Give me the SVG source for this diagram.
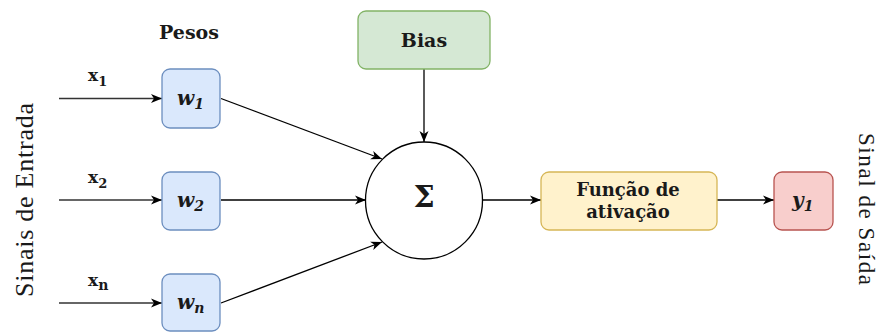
<svg xmlns="http://www.w3.org/2000/svg" width="880" height="332" viewBox="0 0 880 332">
<defs>
<marker id="arr" markerUnits="userSpaceOnUse" markerWidth="12" markerHeight="10" viewBox="0 0 12 10" refX="11" refY="5" orient="auto">
<path d="M0,0.5 L11,5 L0,9.5 L3,5 Z" fill="#000"/>
</marker>
</defs>
<style>
.lbl{font-family:"DejaVu Serif",serif;font-weight:bold;font-size:19px;text-anchor:middle;fill:#1a1a1a;}
.fn{font-size:18px;}
.sig{font-size:30px;}
.side{font-family:"Liberation Serif",serif;font-size:26px;text-anchor:middle;fill:#1a1a1a;}
.saida{font-size:23px;}
.w{fill:#dae8fc;stroke:#6c8ebf;stroke-width:1.3;}
.edge{stroke:#000;stroke-width:1.3;fill:none;marker-end:url(#arr);}
.in{stroke:#333;stroke-width:1.6;fill:none;marker-end:url(#arr);}
.var{font-family:"DejaVu Serif",serif;font-weight:bold;font-style:italic;font-size:20px;fill:#1a1a1a;}
.xl{font-family:"DejaVu Serif",serif;font-weight:bold;font-size:17px;fill:#1a1a1a;}
</style>
<g id="connectors">
<line class="in" x1="59" y1="98.5" x2="162" y2="98.5"/>
<line class="in" x1="59" y1="200" x2="162" y2="200"/>
<line class="in" x1="59" y1="303" x2="162" y2="303"/>
<line class="edge" x1="221" y1="98.5" x2="382" y2="159"/>
<line class="edge" x1="221" y1="200" x2="366" y2="200"/>
<line class="edge" x1="221" y1="303" x2="382" y2="242"/>
<line class="edge" x1="424" y1="69" x2="424" y2="142"/>
<line class="edge" x1="483" y1="200" x2="541" y2="200"/>
<line class="edge" x1="717" y1="200" x2="774" y2="200"/>
</g>
<g id="label-x1"><text class="xl" x="88" y="81">x<tspan font-size="13" dy="5">1</tspan></text></g>
<g id="label-x2"><text class="xl" x="88" y="183">x<tspan font-size="13" dy="5">2</tspan></text></g>
<g id="label-xn"><text class="xl" x="88" y="286">x<tspan font-size="14" dy="4">n</tspan></text></g>
<g id="label-pesos"><text class="lbl" x="189" y="39">Pesos</text></g>
<g id="w1"><rect class="w" x="162" y="69" width="58" height="59" rx="8"/><text class="var" x="177" y="105">w<tspan font-size="14" dy="4">1</tspan></text></g>
<g id="w2"><rect class="w" x="162" y="172" width="58" height="58" rx="8"/><text class="var" x="177" y="207">w<tspan font-size="14" dy="4">2</tspan></text></g>
<g id="wn"><rect class="w" x="162" y="274" width="58" height="57" rx="8"/><text class="var" x="177" y="309">w<tspan font-size="14" dy="4">n</tspan></text></g>
<g id="bias"><rect x="358" y="11" width="132" height="58" rx="8" fill="#d5e8d4" stroke="#82b366" stroke-width="1.3"/><text class="lbl" x="424" y="47">Bias</text></g>
<g id="sum"><circle cx="424" cy="200.5" r="58.5" fill="#fff" stroke="#000" stroke-width="1.3"/><text class="lbl sig" x="424" y="207">Σ</text></g>
<g id="ativacao"><rect x="541" y="172" width="176" height="58" rx="8" fill="#fff2cc" stroke="#d6b656" stroke-width="1.3"/><text class="lbl fn" x="628" y="196">Função de</text><text class="lbl fn" x="628" y="218">ativação</text></g>
<g id="y1"><rect x="774" y="172" width="59" height="58" rx="8" fill="#f8cecc" stroke="#b85450" stroke-width="1.3"/><text class="var" x="792" y="207">y<tspan font-size="14" dy="4">1</tspan></text></g>
<g id="label-entrada"><text class="side" x="33" y="200" transform="rotate(-90 33 200)" textLength="194" lengthAdjust="spacing">Sinais de Entrada</text></g>
<g id="label-saida"><text class="side saida" x="859" y="209" transform="rotate(90 859 209)" textLength="152" lengthAdjust="spacing">Sinal de Saída</text></g>
</svg>
